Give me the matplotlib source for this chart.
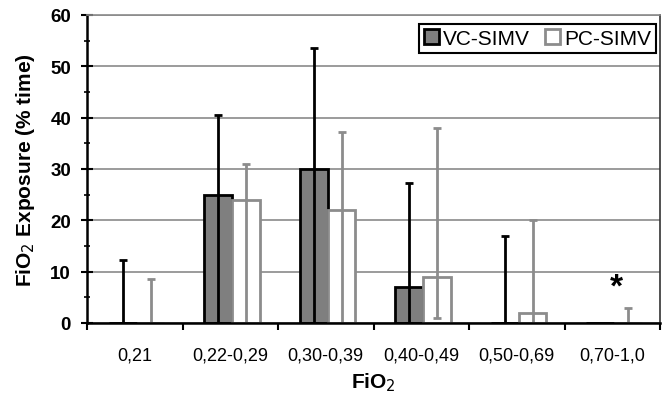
import matplotlib.pyplot as plt
import numpy as np
from matplotlib.ticker import MultipleLocator
from matplotlib.patches import Patch

plt.rcParams["font.family"] = ["Liberation Sans", "DejaVu Sans"]

# %% Data
categories = ["0,21", "0,22-0,29", "0,30-0,39", "0,40-0,49", "0,50-0,69", "0,70-1,0"]
vc_mean = [0, 25, 30, 7, 0, 0]
pc_mean = [0, 24, 22, 9, 2, 0]
# error bar extents (lower end, upper end); nan = no bar
vc_err_lo = [0, 0, 0, 0, 0, np.nan]
vc_err_hi = [12.3, 40.5, 53.5, 27.2, 17, np.nan]
pc_err_lo = [0, 0, 0, 1, 0, 0]
pc_err_hi = [8.5, 31, 37.2, 38, 20, 3]

# %% Figure
fig = plt.figure(figsize=(6.66, 4.02), dpi=100)
ax = fig.add_axes([87 / 666, 78 / 402, 573 / 666, 308 / 402])

x = np.arange(len(categories))
w = 0.29
shift = 0.02
x_vc = x + shift - w / 2
x_pc = x + shift + w / 2
lw = 2.0

ax.bar(x_vc, vc_mean, width=w, color="#7f7f7f", edgecolor="black", linewidth=lw, zorder=1)
ax.bar(x_pc, pc_mean, width=w, color="white", edgecolor="#8c8c8c", linewidth=lw, zorder=1)

vc_mean_a = np.array(vc_mean, float)
pc_mean_a = np.array(pc_mean, float)
ax.errorbar(x_vc, vc_mean_a, yerr=[vc_mean_a - np.array(vc_err_lo), np.array(vc_err_hi) - vc_mean_a],
            fmt="none", ecolor="black", elinewidth=lw, capsize=3, capthick=lw, zorder=2)
ax.errorbar(x_pc, pc_mean_a, yerr=[pc_mean_a - np.array(pc_err_lo), np.array(pc_err_hi) - pc_mean_a],
            fmt="none", ecolor="#8c8c8c", elinewidth=lw, capsize=3, capthick=lw, zorder=2)

ax.text(5 + 0.04, 7.0, "*", ha="center", va="center", fontsize=24, fontweight="bold")

# axes
ax.set_xlim(-0.5, len(categories) - 0.5)
ax.set_ylim(0, 60)
ax.yaxis.set_major_locator(MultipleLocator(10))
ax.yaxis.set_minor_locator(MultipleLocator(5))
ax.grid(axis="y", color="#8a8a8a", linewidth=1.2, zorder=0)
ax.set_axisbelow(True)

ax.set_xticks(np.arange(-0.5, len(categories)), minor=False)
ax.set_xticklabels([])
ax.set_xticks(x, minor=True)
ax.set_xticklabels(categories, minor=True, fontsize=13)
ax.tick_params(axis="x", which="minor", length=0, pad=17)
ax.tick_params(axis="x", which="major", direction="out", length=5, width=1.5)
ax.tick_params(axis="y", which="major", direction="inout", length=9, width=1.5, labelsize=13.5, pad=7)
ax.tick_params(axis="y", which="minor", direction="inout", length=5, width=1.2)
for lab in ax.get_yticklabels():
    lab.set_fontweight("bold")

for s in ["left", "bottom"]:
    ax.spines[s].set_linewidth(1.8)
    ax.spines[s].set_color("black")
ax.spines["top"].set_color("#8a8a8a")
ax.spines["top"].set_linewidth(1.2)
ax.spines["right"].set_color("#333333")
ax.spines["right"].set_linewidth(1.2)

ax.set_ylabel("FiO$_2$ Exposure (% time)", fontsize=15, fontweight="bold")
ax.yaxis.set_label_coords(-0.088, 0.5)
ax.set_xlabel("FiO$_2$", fontsize=15, fontweight="bold", labelpad=5)

handles = [Patch(facecolor="#7f7f7f", edgecolor="black", linewidth=lw),
           Patch(facecolor="white", edgecolor="#8c8c8c", linewidth=lw)]
leg = ax.legend(handles, ["VC-SIMV", "PC-SIMV"], ncol=2, loc="upper right",
                bbox_to_anchor=(0.993, 0.972), fontsize=15, frameon=True, fancybox=False,
                handlelength=0.72, handleheight=0.72, handletextpad=0.2, columnspacing=0.7,
                borderpad=0.25, borderaxespad=0, edgecolor="black", framealpha=1)
leg.get_frame().set_linewidth(1.5)

fig.savefig("out.png", dpi=100)
